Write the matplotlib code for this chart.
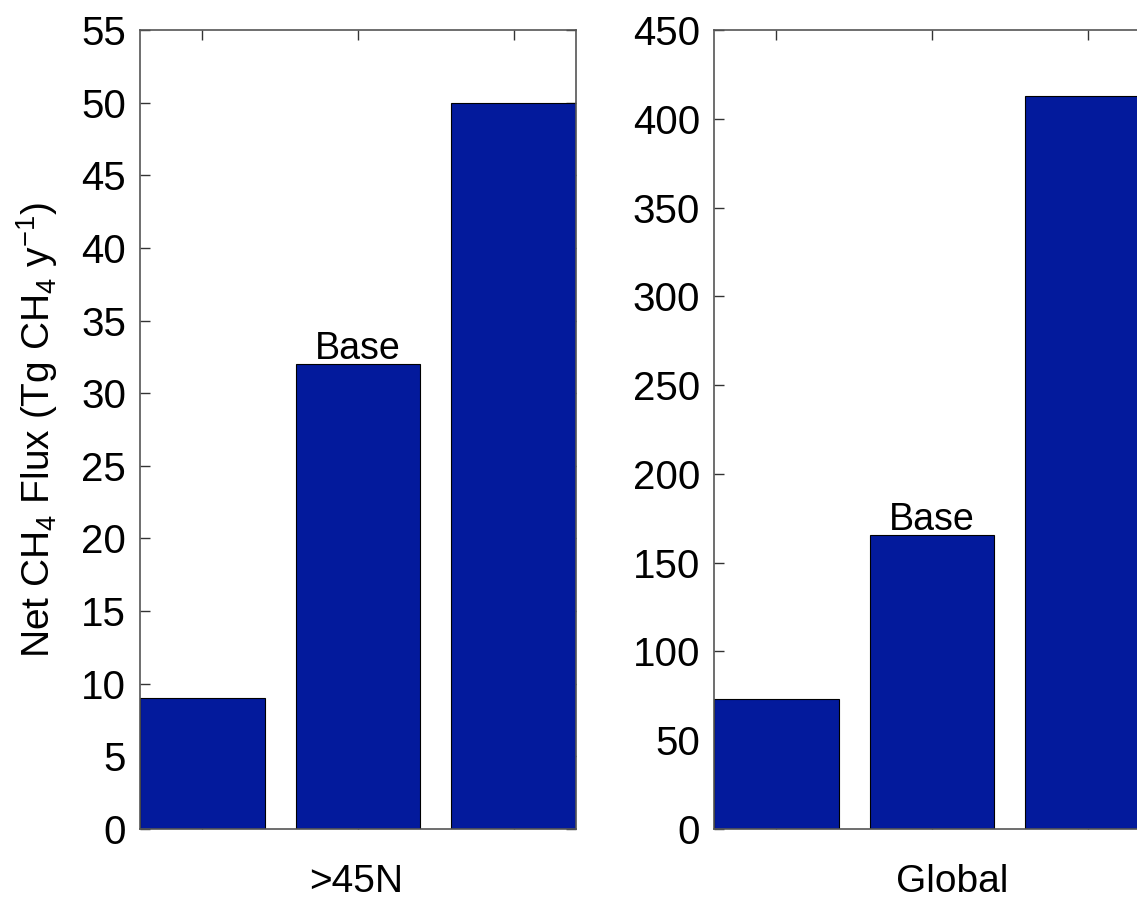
import matplotlib
matplotlib.use("Agg")
import matplotlib.pyplot as plt

plt.rcParams['font.family'] = ['Liberation Sans', 'DejaVu Sans']
plt.rcParams['mathtext.fontset'] = 'custom'
plt.rcParams['mathtext.rm'] = 'Liberation Sans'
plt.rcParams['mathtext.it'] = 'Liberation Sans'

positions = [1, 2, 3]
north_values = [9.0, 32.0, 50.0]
global_values = [73.0, 165.5, 413.0]
north_yticks = list(range(0, 56, 5))
global_yticks = list(range(0, 451, 50))
panel_labels = [">45N", "Global"]
base_label = "Base"
ylabel = r"Net CH$_4$ Flux (Tg CH$_4$ y$^{-1}$)"

W, H = 1137, 905
fig = plt.figure(figsize=(W / 100, H / 100), dpi=100)

bar_color = "#031a9c"
fs = 29

def make_ax(left_px, right_px, values, yticks, ymax, xlabel, label_x_px):
    ax = fig.add_axes([left_px / W, (H - 829) / H, (right_px - left_px) / W, (829 - 30) / H])
    ax.bar(positions, values, width=0.8, color=bar_color, edgecolor="black", linewidth=0.8, zorder=2)
    ax.set_xlim(0.6, 3.4)
    ax.set_ylim(0, ymax)
    ax.set_yticks(yticks)
    ax.set_xticks(positions)
    ax.set_xticklabels([])
    ax.tick_params(axis="both", direction="in", length=7, width=1, top=True, right=True,
                   labelsize=fs, pad=10, color="#333333")
    for s in ax.spines.values():
        s.set_color("#555555")
        s.set_linewidth(1.2)
    ax.text(2, values[1] - ymax * 0.004, base_label, ha="center", va="bottom", fontsize=fs - 2, zorder=3)
    ax.set_xlabel(xlabel, fontsize=fs - 1)
    ax.xaxis.set_label_coords((label_x_px - left_px) / (right_px - left_px), -(864 - 829) / (829 - 30))
    return ax

ax1 = make_ax(140, 576, north_values, north_yticks, 55, panel_labels[0], 356)
ax1.set_ylabel(ylabel, fontsize=fs - 1)
ax1.yaxis.set_label_coords(-(140 - 60) / (576 - 140), 0.5)
ax2 = make_ax(714, 1150, global_values, global_yticks, 450, panel_labels[1], 952)

fig.savefig("out.png", dpi=100)
